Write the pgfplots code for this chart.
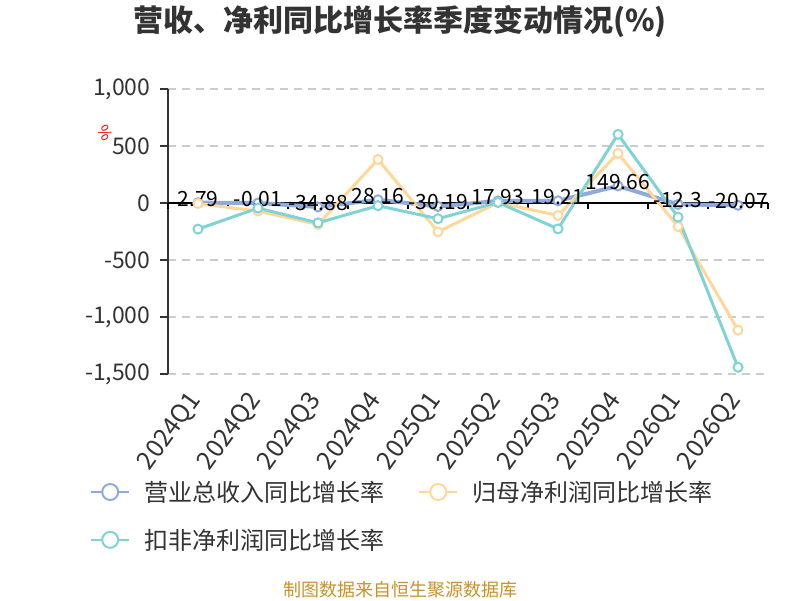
\documentclass[border=0pt]{standalone}
\usepackage{pgfplots}
\pgfplotsset{compat=1.18}
\usepackage{pgfplotstable}
\usepackage{fontspec}
\setmainfont{Noto Sans CJK SC}
\definecolor{cblue}{HTML}{8FAADC}
\definecolor{corange}{HTML}{FFD899}
\definecolor{cteal}{HTML}{7FD3D5}
\definecolor{ctext}{HTML}{333333}
\definecolor{cgrid}{HTML}{CCCCCC}
\definecolor{cfoot}{HTML}{C8922A}

\pgfplotstableread{
x y label
0 2.79 2.79
1 -0.01 -0.01
2 -34.88 -34.88
3 28.16 28.16
4 -30.19 -30.19
5 17.93 17.93
6 19.21 19.21
7 149.66 149.66
8 -12.3 -12.3
9 -20.07 -20.07
}\revenue
\pgfplotstableread{
x y
0 -5
1 -71
2 -188
3 382
4 -253
5 3
6 -109
7 435
8 -206
9 -1115
}\netprofit
\pgfplotstableread{
x y
0 -229
1 -45
2 -174
3 -24
4 -138
5 5
6 -227
7 602
8 -124
9 -1441
}\deducted

\begin{document}
\begin{tikzpicture}
\path[use as bounding box] (0,0) rectangle (800pt,600pt);
\node[font=\fontsize{30}{33}\selectfont\bfseries, text=ctext] at (400pt,578pt) {营收、净利同比增长率季度变动情况(\%)};
\node[font=\fontsize{18}{20}\selectfont, text=cfoot] at (400pt,10pt) {制图数据来自恒生聚源数据库};
\node[font=\fontsize{16}{18}\selectfont, text=red, rotate=-60] at (105pt,467pt) {\%};
\begin{axis}[
  at={(168pt,226pt)}, anchor=south west,
  scale only axis, width=600pt, height=285pt,
  xmin=-0.5, xmax=9.5, ymin=-1500, ymax=1000,
  axis lines*=left,
  x axis line style={draw=none},
  y axis line style={draw=ctext, line width=1.2pt},
  xtick={0,...,9},
  xticklabels={2024Q1,2024Q2,2024Q3,2024Q4,2025Q1,2025Q2,2025Q3,2025Q4,2026Q1,2026Q2},
  xtick style={draw=none},
  xticklabel style={yshift=-11pt, rotate=54, anchor=east, font=\fontsize{25}{27}\selectfont, text=ctext},
  ytick={-1500,-1000,-500,0,500,1000},
  ytick style={draw=ctext, line width=1.2pt},
  tick align=outside, major tick length=8pt,
  yticklabel style={xshift=-6pt, font=\fontsize{23}{25}\selectfont, text=ctext},
  /pgf/number format/assume math mode=true,
  /pgf/number format/1000 sep={,},
  scaled y ticks=false,
  ymajorgrids,
  grid style={cgrid, line width=1.2pt, dash pattern=on 8pt off 6pt},
  clip=false,
  legend columns=2,
  legend style={at={(axis description cs:-0.13,-0.368)}, anchor=north west, draw=none, fill=none,
    font=\fontsize{24}{26}\selectfont, text=ctext, inner sep=0pt,
    row sep=22pt, nodes={inner xsep=14pt}},
  legend cell align=left,
  /tikz/every even column/.append style={column sep=20pt},
  legend image code/.code={
    \draw[#1, mark=none, line width=2pt] (0pt,0pt) -- (38pt,0pt);
    \draw[#1, mark=none, line width=2pt, fill=white] (19pt,0pt) circle (8pt);
  },
]
\draw[black, line width=1.2pt] (axis cs:-0.5,0) -- (axis cs:9.5,0);
\draw[black, line width=1.2pt] (axis cs:-0.5,0) -- ([yshift=-6pt]axis cs:-0.5,0);
\draw[black, line width=1.2pt] (axis cs:0.5,0) -- ([yshift=-6pt]axis cs:0.5,0);
\draw[black, line width=1.2pt] (axis cs:1.5,0) -- ([yshift=-6pt]axis cs:1.5,0);
\draw[black, line width=1.2pt] (axis cs:2.5,0) -- ([yshift=-6pt]axis cs:2.5,0);
\draw[black, line width=1.2pt] (axis cs:3.5,0) -- ([yshift=-6pt]axis cs:3.5,0);
\draw[black, line width=1.2pt] (axis cs:4.5,0) -- ([yshift=-6pt]axis cs:4.5,0);
\draw[black, line width=1.2pt] (axis cs:5.5,0) -- ([yshift=-6pt]axis cs:5.5,0);
\draw[black, line width=1.2pt] (axis cs:6.5,0) -- ([yshift=-6pt]axis cs:6.5,0);
\draw[black, line width=1.2pt] (axis cs:7.5,0) -- ([yshift=-6pt]axis cs:7.5,0);
\draw[black, line width=1.2pt] (axis cs:8.5,0) -- ([yshift=-6pt]axis cs:8.5,0);
\draw[black, line width=1.2pt] (axis cs:9.5,0) -- ([yshift=-6pt]axis cs:9.5,0);

\addplot[cblue, line width=4pt, mark=*, mark size=4.5pt,
  mark options={fill=white, draw=cblue, line width=2pt},
  nodes near coords, point meta=explicit symbolic,
  every node near coord/.style={font=\fontsize{21}{23}\selectfont, text=black, anchor=center, yshift=4pt}]
  table[x=x, y=y, meta=label] {\revenue};
\addlegendentry{营业总收入同比增长率}
\addplot[corange, line width=3pt, mark=*, mark size=4.5pt,
  mark options={fill=white, draw=corange, line width=2pt}]
  table[x=x, y=y] {\netprofit};
\addlegendentry{归母净利润同比增长率}
\addplot[cteal, line width=3pt, mark=*, mark size=4.5pt,
  mark options={fill=white, draw=cteal, line width=2pt}]
  table[x=x, y=y] {\deducted};
\addlegendentry{扣非净利润同比增长率}
\end{axis}
\end{tikzpicture}
\end{document}
